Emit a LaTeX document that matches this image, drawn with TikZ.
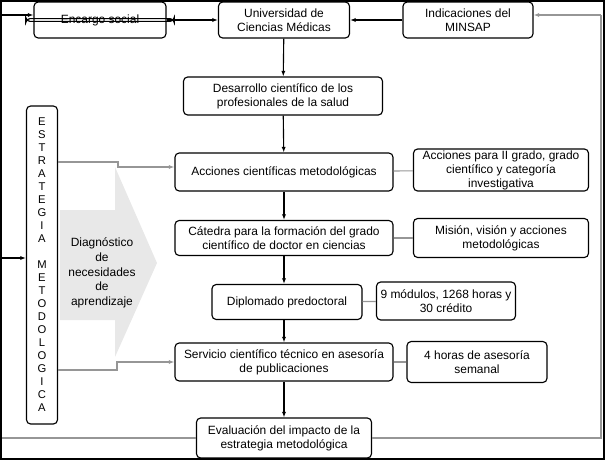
\documentclass[tikz,border=0pt]{standalone}
\usepackage{fontspec}
\setmainfont{Liberation Sans}
\usetikzlibrary{arrows.meta, positioning, calc}
\definecolor{linegray}{RGB}{150,150,150}
\definecolor{shadegray}{RGB}{232,232,232}

\begin{document}
\begin{tikzpicture}[
        x=0.025cm, y=-0.025cm,
        box/.style={rectangle, rounded corners=3pt, draw=black, thick, align=center, font=\fontsize{8.5}{10}\selectfont, inner sep=1pt},
        arrow/.style={thick, -{Latex[length=4pt,width=3pt]}, black},
        grayarrow/.style={thick, -{Latex[length=4pt,width=3pt]}, linegray},
        link/.style={thick, linegray}
    ]
        \useasboundingbox (0,0) rectangle (605,460);
        % Frame
        \draw[thick] (1,1) rectangle (604,459);

        % Shaded arrow
        \fill[shadegray] (60,210) -- (115,210) -- (115,167) -- (157,263) -- (115,357) -- (115,320) -- (60,320) -- cycle;
        \node (diag) [align=center, font=\fontsize{8.5}{10.5}\selectfont] at (102,273) {Diagnóstico\\de\\necesidades\\de\\aprendizaje};

        % Top row
        \node (encargo) [box, minimum width=132\pgflinewidth] at (100,20) {};
        \node (encargo) [box, minimum width=3.3cm, minimum height=0.9cm] at (100,20) {Encargo social};
        \node (ucm) [box, minimum width=3.275cm, minimum height=0.9cm] at (284,20) {Universidad de\\Ciencias Médicas};
        \node (minsap) [box, minimum width=3.25cm, minimum height=0.9cm] at (468,20) {Indicaciones del\\MINSAP};

        % Central column
        \node (desarrollo) [box, minimum width=4.975cm, minimum height=0.95cm] at (283,96) {Desarrollo científico de los\\profesionales de la salud};
        \node (acciones) [box, minimum width=5.45cm, minimum height=0.95cm] at (284,172) {Acciones científicas metodológicas};
        \node (catedra) [box, minimum width=5.45cm, minimum height=0.875cm] at (284,238) {Cátedra para la formación del grado\\científico de doctor en ciencias};
        \node (diplomado) [box, minimum width=3.75cm, minimum height=0.875cm] at (287,302) {Diplomado predoctoral};
        \node (servicio) [box, minimum width=5.45cm, minimum height=0.95cm] at (284,362) {Servicio científico técnico en asesoría\\de publicaciones};
        \node (evaluacion) [box, minimum width=4.375cm, minimum height=1cm] at (284,438) {Evaluación del impacto de la\\estrategia metodológica};

        % Side notes
        \node (accnote) [box, minimum width=4.375cm, minimum height=0.975cm] at (501,170) {Acciones para II grado, grado\\científico y categoría\\investigativa};
        \node (catnote) [box, minimum width=4.375cm, minimum height=0.975cm] at (501,238) {Misión, visión y acciones\\metodológicas};
        \node (dipnote) [box, minimum width=3.475cm, minimum height=0.95cm] at (446,301) {9 módulos,  1268 horas y\\30 crédito};
        \node (sernote) [box, minimum width=3.5cm, minimum height=1.025cm] at (477,362) {4 horas de asesoría\\semanal};

        % Strategy column
        \node (estrategia) [box, minimum width=0.775cm, minimum height=7.95cm, font=\fontsize{8}{9.25}\selectfont] at (42,265)
            {E\\S\\T\\R\\A\\T\\E\\G\\I\\A\\ \\M\\E\\T\\O\\D\\O\\L\\O\\G\\I\\C\\A};

        % Feedback loop
        \coordinate (tl) at (2,15);
        \coordinate (ml) at (2,258);
        \coordinate (tr) at (601,15);
        \coordinate (br) at (601,438);
        \coordinate (bl) at (2,438);
        \draw [arrow] (tl) -- (encargo.west |- tl);
        \draw [arrow] (ml) -- (estrategia.west |- ml);
        \draw [grayarrow] (tr) -- (minsap.east |- tr);
        \draw [link] (tr) -- (br) -- (evaluacion.east |- br);
        \draw [link] (bl) -- (evaluacion.west |- bl);

        % Top arrows
        \draw [arrow] (encargo) -- (ucm);
        \draw [arrow] (minsap) -- (ucm);
        \draw [arrow] (ucm) -- (desarrollo);
        \draw [arrow] (desarrollo) -- (acciones);
        \draw [arrow] (acciones) -- (catedra);
        \draw [arrow] (catedra.south) -- (catedra.south |- diplomado.north);
        \draw [arrow] (catedra.south |- diplomado.south) -- (servicio.north);
        \draw [arrow] (servicio) -- (evaluacion);

        % Strategy links
        \draw [grayarrow] (estrategia.east |- 0,162) -- (118,162) -- (118,167) -- (acciones.west |- 0,167);
        \draw [grayarrow] (estrategia.east |- 0,370) -- (117,370) -- (117,362) -- (servicio.west);

        % Note links
        \draw [link] (acciones) -- (accnote);
        \draw [link] (catedra) -- (catnote);
        \draw [link] (diplomado) -- (dipnote);
        \draw [link] (servicio) -- (sernote);
    \end{tikzpicture}
\end{document}
